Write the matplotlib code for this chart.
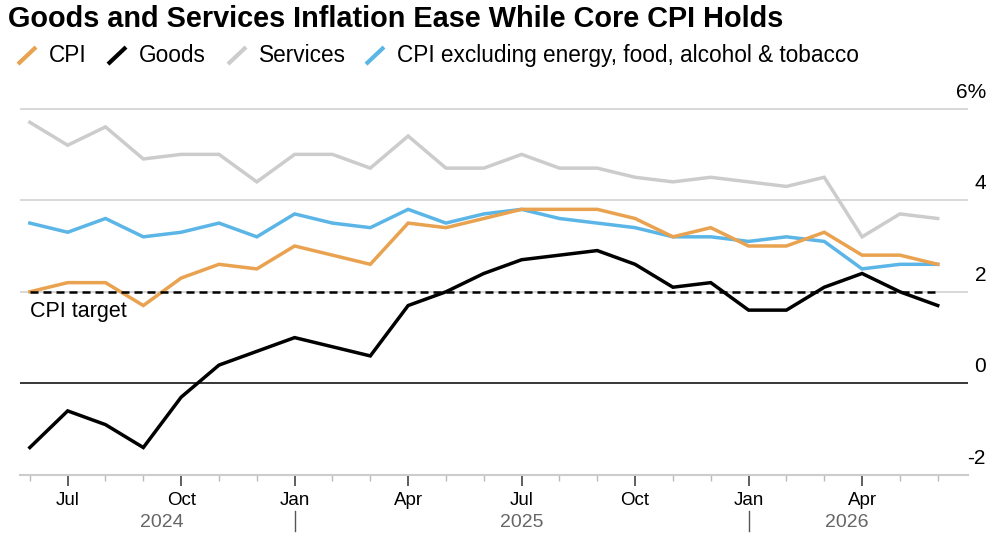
import matplotlib
matplotlib.use("Agg")
import matplotlib.pyplot as plt
import matplotlib.transforms as mtransforms
from matplotlib.lines import Line2D

# ---- data (Jun 2024 .. Jun 2026, monthly) ----
months = ["Jun", "Jul", "Aug", "Sep", "Oct", "Nov", "Dec",
          "Jan", "Feb", "Mar", "Apr", "May", "Jun", "Jul", "Aug", "Sep", "Oct", "Nov", "Dec",
          "Jan", "Feb", "Mar", "Apr", "May", "Jun"]
cpi = [2.0, 2.2, 2.2, 1.7, 2.3, 2.6, 2.5, 3.0, 2.8, 2.6, 3.5, 3.4, 3.6,
       3.8, 3.8, 3.8, 3.6, 3.2, 3.4, 3.0, 3.0, 3.3, 2.8, 2.8, 2.6]
goods = [-1.4, -0.6, -0.9, -1.4, -0.3, 0.4, 0.7, 1.0, 0.8, 0.6, 1.7, 2.0, 2.4,
         2.7, 2.8, 2.9, 2.6, 2.1, 2.2, 1.6, 1.6, 2.1, 2.4, 2.0, 1.7]
services = [5.7, 5.2, 5.6, 4.9, 5.0, 5.0, 4.4, 5.0, 5.0, 4.7, 5.4, 4.7, 4.7,
            5.0, 4.7, 4.7, 4.5, 4.4, 4.5, 4.4, 4.3, 4.5, 3.2, 3.7, 3.6]
core = [3.5, 3.3, 3.6, 3.2, 3.3, 3.5, 3.2, 3.7, 3.5, 3.4, 3.8, 3.5, 3.7,
        3.8, 3.6, 3.5, 3.4, 3.2, 3.2, 3.1, 3.2, 3.1, 2.5, 2.6, 2.6]
cpi_target = 2.0
quarter_labels = ["Jul", "Oct", "Jan", "Apr", "Jul", "Oct", "Jan", "Apr"]
quarter_idx = [1, 4, 7, 10, 13, 16, 19, 22]
years = ["2024", "2025", "2026"]
year_pos = [3.5, 13.0, 21.6]
year_breaks = [7, 19]
y_ticks = [6, 4, 2, 0, -2]
y_labels = ["6%", "4", "2", "0", "-2"]

C_CPI = "#E9A24F"
C_GOODS = "#000000"
C_SERV = "#CCCCCC"
C_CORE = "#5BB5E6"

plt.rcParams['font.family'] = ['Liberation Sans', 'DejaVu Sans']

fig = plt.figure(figsize=(10, 5.45), dpi=100)
ax = fig.add_axes([0.02, 0.1284, 0.948, 0.706])
x = list(range(len(months)))
ax.set_xlim(-0.26, 24.8)
ax.set_ylim(-2, 6.4)

# gridlines
for v in [2, 4, 6]:
    ax.axhline(v, color="#d6d6d6", lw=1.3, zorder=1)
ax.axhline(0, color="black", lw=1.1, zorder=2)

ax.plot(x, services, color=C_SERV, lw=2.5, zorder=3, solid_joinstyle="miter")
ax.plot(x, core, color=C_CORE, lw=2.5, zorder=4, solid_joinstyle="miter")
ax.plot(x, cpi, color=C_CPI, lw=2.5, zorder=5, solid_joinstyle="miter")
ax.plot([x[0], x[-1]], [cpi_target, cpi_target], color="black", lw=1.8,
        dashes=(3.2, 2.0), zorder=6)
ax.plot(x, goods, color=C_GOODS, lw=2.5, zorder=7, solid_joinstyle="miter")

ax.text(0.0, 1.80, "CPI target", fontsize=15.5, ha="left", va="top", zorder=8)

# spines
for s in ["top", "right", "left"]:
    ax.spines[s].set_visible(False)
ax.spines["bottom"].set_color("#cccccc")
ax.spines["bottom"].set_linewidth(1.5)
ax.set_yticks([])

ax.set_xticks(quarter_idx)
ax.set_xticklabels(quarter_labels, fontsize=13.5)
ax.set_xticks(x, minor=True)
ax.tick_params(axis="x", which="major", length=8, width=1.1, color="#333333", pad=4)
ax.tick_params(axis="x", which="minor", length=4, width=1.0, color="#bbbbbb")

# year labels
trans_x = mtransforms.blended_transform_factory(ax.transData, fig.transFigure)
for yl, xp in zip(years, year_pos):
    ax.text(xp, 0.042, yl, transform=trans_x, fontsize=14, color="#666666",
            ha="center", va="center")
for xb in year_breaks:
    ax.add_line(Line2D([xb, xb], [0.025, 0.062], transform=trans_x,
                       color="#555555", lw=1.0, clip_on=False))

# right-side y labels above gridlines
trans_y = mtransforms.blended_transform_factory(fig.transFigure, ax.transData)
for v, lab in zip(y_ticks, y_labels):
    ax.text(0.986, v + 0.36, lab, transform=trans_y, fontsize=15,
            ha="right", va="center")

# title
fig.text(0.008, 0.966, "Goods and Services Inflation Ease While Core CPI Holds",
         fontsize=20.8, fontweight="bold", ha="left", va="center",
         family=['Liberation Sans Narrow', 'Liberation Sans', 'DejaVu Sans'])

# legend
leg_items = [("CPI", C_CPI, 0.027), ("Goods", C_GOODS, 0.117),
             ("Services", C_SERV, 0.237), ("CPI excluding energy, food, alcohol & tobacco", C_CORE, 0.375)]
ly = 0.898
for lab, col, xp in leg_items:
    fig.add_artist(Line2D([xp - 0.0075, xp + 0.0075], [ly - 0.013, ly + 0.013],
                          transform=fig.transFigure, color=col, lw=3))
    fig.text(xp + 0.022, ly, lab, fontsize=16.3, ha="left", va="center")

fig.savefig("out.png", dpi=100)
